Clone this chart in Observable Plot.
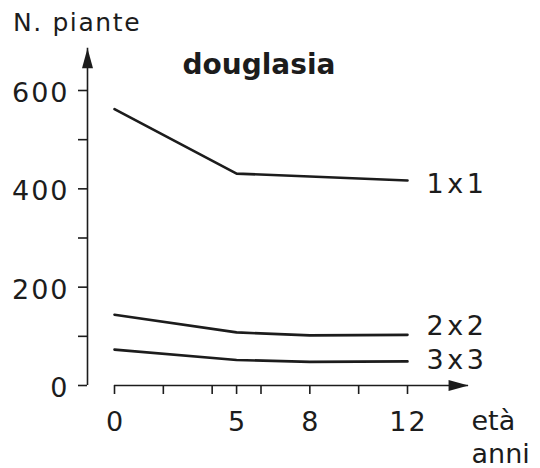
<!DOCTYPE html>
<html>
<head>
<meta charset="utf-8">
<script src="https://cdn.jsdelivr.net/npm/d3@7"></script>
<script src="https://cdn.jsdelivr.net/npm/@observablehq/plot@0.6"></script>
<style>
  body { margin: 0; background: #fff; }
  #chart svg { display: block; }
  .ls2 text { letter-spacing: 2px; }
  .ls15 text { letter-spacing: 1.6px; }
  .ls4 text { letter-spacing: 3.5px; }
</style>
</head>
<body>
<div id="chart"></div>
<script>
// ---- data ----
const years = [0, 5, 8, 12];
const series = ["1x1", "2x2", "3x3"];
const values1x1 = [562, 431, 425, 417];
const values2x2 = [144, 108, 102, 103];
const values3x3 = [73, 52, 48, 49];
// label positions (N. piante) next to line ends
const labelValues = [411, 123, 53];
// axis ticks
const xTicks = [0, 2, 4, 5, 6, 8, 10, 12];
const xTickLabels = [0, 5, 8, 12];
const yTicks = [0, 100, 200, 300, 400, 500, 600];
const yTickLabels = [0, 200, 400, 600];
// axis arrow tips (data units)
const xAxisTip = 14.5;
const yAxisTip = 686;
const title = "douglasia";
const yLabel = "N. piante";
const xLabel1 = "età";
const xLabel2 = "anni";

// ---- build table ----
const allValues = [values1x1, values2x2, values3x3];
const data = [];
series.forEach((s, i) => years.forEach((yr, j) => data.push({series: s, year: yr, value: allValues[i][j]})));
const labels = series.map((s, i) => ({series: s, year: years[years.length - 1], value: labelValues[i]}));

const ink = "#1c1c1c";
const font = "DejaVu Sans";
const arrowHead = {
  draw(context) {
    context.moveTo(0, -10);
    context.lineTo(5.5, 10);
    context.lineTo(-5.5, 10);
    context.closePath();
  }
};

const chart = Plot.plot({
  width: 540,
  height: 468,
  marginLeft: 114,
  marginRight: 133,
  marginTop: 90,
  marginBottom: 83,
  style: {fontFamily: font, color: ink, background: "#fff", overflow: "visible"},
  x: {domain: [0, 12]},
  y: {domain: [0, 600]},
  marks: [
    // y axis line + arrow
    Plot.ruleX([0], {y1: 0, y2: yAxisTip, dx: -27, stroke: ink, strokeWidth: 1.6}),
    Plot.dot([{x: 0, y: yAxisTip}], {x: "x", y: "y", dx: -27, dy: 10, symbol: arrowHead, fill: ink, stroke: "none"}),
    // x axis line + arrow
    Plot.ruleY([0], {x1: 0, x2: xAxisTip, stroke: ink, strokeWidth: 1.6}),
    Plot.dot([{x: xAxisTip, y: 0}], {x: "x", y: "y", dx: -10, rotate: 90, symbol: arrowHead, fill: ink, stroke: "none"}),
    // y ticks
    Plot.axisY({ticks: yTicks, tickFormat: () => "", tickSize: 9, dx: -27, stroke: ink, strokeWidth: 1.6}),
    Plot.axisY({ticks: yTickLabels, tickSize: 0, tickPadding: 18, dx: -27, dy: 3, fontSize: 27, fill: ink, className: "ls2"}),
    // x ticks
    Plot.axisX({ticks: xTicks, tickFormat: () => "", tickSize: 9, stroke: ink, strokeWidth: 1.6}),
    Plot.axisX({ticks: xTickLabels, tickSize: 0, tickPadding: 26, dx: 1, fontSize: 27, fill: ink, className: "ls2"}),
    // data lines
    Plot.line(data, {x: "year", y: "value", z: "series", stroke: ink, strokeWidth: 2.6, strokeLinejoin: "round"}),
    // series labels
    Plot.text(labels, {x: "year", y: "value", text: "series", textAnchor: "start", dx: 19, dy: 1, fontSize: 27, fill: ink, className: "ls4"}),
    // title
    Plot.text([title], {frameAnchor: "top-left", textAnchor: "start", lineAnchor: "bottom", dx: 68, dy: -16.5, fontSize: 28, fontWeight: "bold", fill: ink}),
    // y label
    Plot.text([yLabel], {frameAnchor: "top-left", textAnchor: "start", lineAnchor: "bottom", dx: -101.5, dy: -60, fontSize: 25, fill: ink, className: "ls15"}),
    // x label
    Plot.text([xLabel1], {frameAnchor: "bottom-right", textAnchor: "start", lineAnchor: "bottom", dx: 64, dy: 44, fontSize: 27, fill: ink}),
    Plot.text([xLabel2], {frameAnchor: "bottom-right", textAnchor: "start", lineAnchor: "bottom", dx: 64, dy: 77, fontSize: 27, fill: ink})
  ]
});
document.getElementById("chart").appendChild(chart);
</script>
</body>
</html>
